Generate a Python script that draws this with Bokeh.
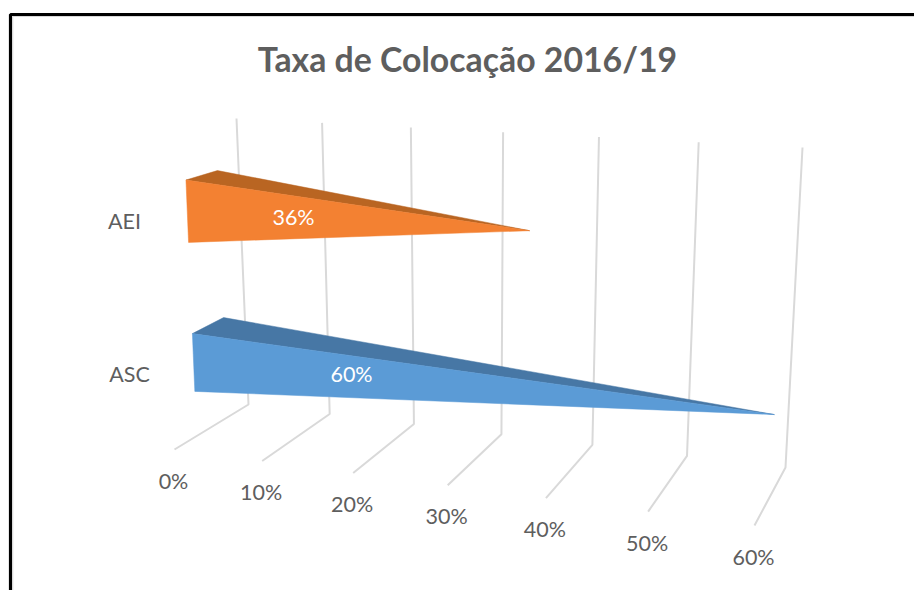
from bokeh.plotting import figure
from bokeh.core.properties import value
from bokeh.embed import file_html
from bokeh.resources import INLINE

# ---- chart data ----
title_text = "Taxa de Colocação 2016/19"
categories = ["AEI", "ASC"]
rates = [36, 60]
rate_labels = ["36%", "60%"]
tick_values = [0, 10, 20, 30, 40, 50, 60]
tick_labels = ["0%", "10%", "20%", "30%", "40%", "50%", "60%"]
front_colors = ["#F38132", "#5B9BD6"]
top_colors = ["#B96522", "#4777A5"]

# ---- 3-D projection of the chart box (value, depth, height) onto the page ----
AXIS_MAX = 60
PERSPECTIVE = 1.123
FRONT = ((174, 449), (754, 525))
BACK = ((248, 404), (785, 467))
TOP = ((236, 118), (802, 147))


def warp(v):
    t = v / AXIS_MAX
    return t / (t + PERSPECTIVE * (1 - t))


def lerp(a, b, s):
    return (a[0] + (b[0] - a[0]) * s, a[1] + (b[1] - a[1]) * s)


def project(v, depth, height):
    s = warp(v)
    floor = lerp(lerp(*FRONT, s), lerp(*BACK, s), depth)
    back, top = lerp(*BACK, s), lerp(*TOP, s)
    return (floor[0] + (top[0] - back[0]) * height,
            floor[1] + (top[1] - back[1]) * height)


# bar placement inside the box:
# (bottom height, front-top height, back-top height, tip depth, tip height)
BAR_BOX = {"AEI": (0.677, 0.895, 0.862, 0.40, 0.79),
           "ASC": (0.156, 0.358, 0.348, 0.50, 0.256)}
BAR_FRONT, BAR_BACK = 0.30, 0.72
LABEL_AT = {"AEI": (293, 218), "ASC": (351, 375)}
CATEGORY_AT = {"AEI": (124, 222), "ASC": (129, 375)}
TEXT_LIFT = 2

p = figure(width=914, height=590, x_range=(0, 914), y_range=(590, 0),
           output_backend="svg", toolbar_location=None, min_border=0,
           outline_line_color=None, background_fill_color="white",
           border_fill_color="white")
p.axis.visible = False
p.grid.visible = False

# frame
p.line([10, 10, 914], [590, 14, 14], line_color="black", line_width=3.2)
p.line([12.2, 12.2, 914], [590, 16, 16], line_color="#D9D9D9", line_width=1.2)

# gridlines: floor then wall, one for each tick
xs, ys = [], []
for v in tick_values:
    pts = [project(v, 0, 0), project(v, 1, 0), project(v, 1, 1)]
    xs.append([q[0] for q in pts])
    ys.append([q[1] for q in pts])
p.multi_line(xs, ys, line_color="#D9D9D9", line_width=2)

# bars
for cat, rate, fc, tc in zip(categories, rates, front_colors, top_colors):
    lo, hi, hi_back, tip_d, tip_h = BAR_BOX[cat]
    tip = project(rate, tip_d, tip_h)
    fl, ft = project(0, BAR_FRONT, lo), project(0, BAR_FRONT, hi)
    bt = project(0, BAR_BACK, hi_back)
    p.patch([ft[0], bt[0], tip[0]], [ft[1], bt[1], tip[1]],
            fill_color=tc, line_color=tc, line_width=0.5)
    p.patch([fl[0], ft[0], tip[0]], [fl[1], ft[1], tip[1]],
            fill_color=fc, line_color=fc, line_width=0.5)

FONT = value("Lato")
GREY = "#5E5E5E"

# title
p.text([467], [60 - 1.5], text=[title_text], text_font=FONT, text_font_size="33.8px",
       text_font_style="bold", text_color=GREY, text_align="center",
       text_baseline="middle")

# data labels
p.text([LABEL_AT[c][0] for c in categories],
       [LABEL_AT[c][1] - TEXT_LIFT for c in categories],
       text=rate_labels, text_font=FONT, text_font_size="21.5px", text_color="white",
       text_align="center", text_baseline="middle")

# category labels
p.text([CATEGORY_AT[c][0] for c in categories],
       [CATEGORY_AT[c][1] - TEXT_LIFT for c in categories],
       text=categories, text_font=FONT, text_font_size="21.5px", text_color=GREY,
       text_align="center", text_baseline="middle")

# value-axis labels under the floor lines
tick_pts = [project(v, 0, 0) for v in tick_values]
p.text([q[0] - 1 for q in tick_pts], [q[1] + 31 for q in tick_pts], text=tick_labels,
       text_font=FONT, text_font_size="21.5px", text_color=GREY,
       text_align="center", text_baseline="middle")

open("out.html", "w").write(file_html(p, INLINE))
